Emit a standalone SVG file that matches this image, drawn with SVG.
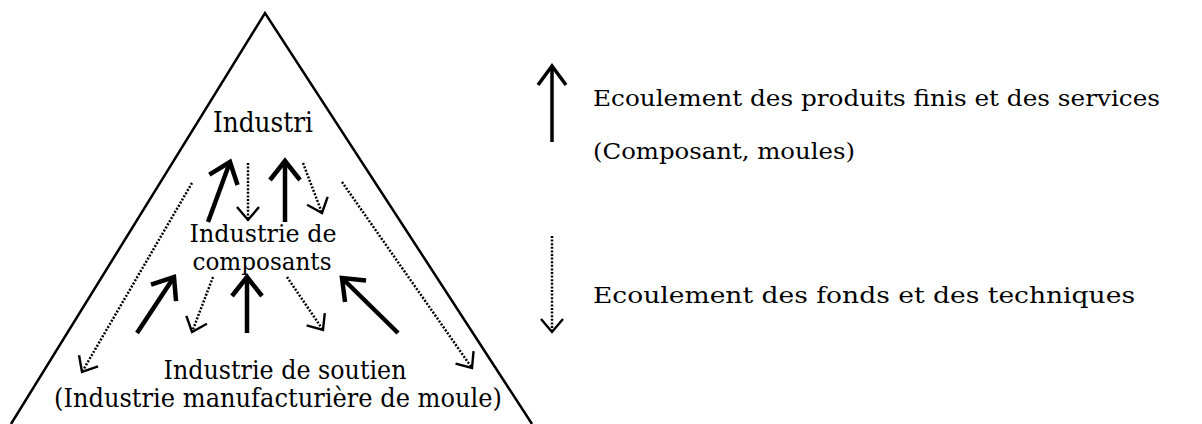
<svg xmlns="http://www.w3.org/2000/svg" width="1202" height="424" viewBox="0 0 1202 424">
<style>
.t{font-family:"DejaVu Serif","Liberation Serif",serif;fill:#000}
.tri{font-size:27px}
.mid{font-size:24px}
.bot{font-size:26px}
.leg{font-size:22px}
.solid{fill:none;stroke:#000;stroke-width:4.5;stroke-linecap:butt}
.solidleg{fill:none;stroke:#000;stroke-width:3.5;stroke-linecap:butt}
.dot{fill:none;stroke:#000;stroke-width:2.5;stroke-dasharray:2 1.6}
</style>
<defs>
<marker id="hs" markerUnits="userSpaceOnUse" orient="auto" refX="0" refY="0" markerWidth="40" markerHeight="40" viewBox="-30 -20 40 40" overflow="visible">
<path d="M-19,-15 L0,0 L-19,15" fill="none" stroke="#000" stroke-width="4.5" stroke-linejoin="miter"/>
</marker>
<marker id="hl" markerUnits="userSpaceOnUse" orient="auto" refX="0" refY="0" markerWidth="40" markerHeight="40" viewBox="-30 -20 40 40" overflow="visible">
<path d="M-19,-14 L0,0 L-19,14" fill="none" stroke="#000" stroke-width="3.5" stroke-linejoin="miter"/>
</marker>
<marker id="hd" markerUnits="userSpaceOnUse" orient="auto" refX="0" refY="0" markerWidth="30" markerHeight="30" viewBox="-20 -15 30 30" overflow="visible">
<path d="M-13,-11 L0,0 L-13,11" fill="none" stroke="#000" stroke-width="2.4"/>
</marker>
</defs>
<g id="pyramid">
<path d="M11,424 L265,13 L532,424" fill="none" stroke="#000" stroke-width="2.5" stroke-linejoin="miter"/>
</g>
<g id="node-industri"><text class="t tri" x="263" y="132" text-anchor="middle" textLength="100" lengthAdjust="spacingAndGlyphs">Industri</text></g>
<g id="node-composants">
<text class="t mid" x="263" y="242" text-anchor="middle" textLength="147" lengthAdjust="spacingAndGlyphs">Industrie de</text>
<text class="t mid" x="262" y="270" text-anchor="middle" textLength="139" lengthAdjust="spacingAndGlyphs">composants</text>
</g>
<g id="node-soutien">
<text class="t bot" x="285" y="379" text-anchor="middle" textLength="243" lengthAdjust="spacingAndGlyphs">Industrie de soutien</text>
<text class="t bot" x="278" y="407" text-anchor="middle" textLength="448" lengthAdjust="spacingAndGlyphs">(Industrie manufacturière de moule)</text>
</g>
<g id="connectors">
<path class="solid" d="M208,222 L230,162" marker-end="url(#hs)"/>
<path class="solid" d="M285,222 L285,161" marker-end="url(#hs)"/>
<path class="solid" d="M137,333 L174,277" marker-end="url(#hs)"/>
<path class="solid" d="M247,333 L247,277" marker-end="url(#hs)"/>
<path class="solid" d="M398,333 L342,278" marker-end="url(#hs)"/>
<path class="dot" d="M248,163 L248,220" marker-end="url(#hd)"/>
<path class="dot" d="M303,163 L322,213" marker-end="url(#hd)"/>
<path class="dot" d="M213,277 L192,332" marker-end="url(#hd)"/>
<path class="dot" d="M287,277 L323,330" marker-end="url(#hd)"/>
<path class="dot" d="M192,183 L82,372" marker-end="url(#hd)"/>
<path class="dot" d="M342,182 L472,368" marker-end="url(#hd)"/>
</g>
<g id="legend-solid">
<path class="solidleg" d="M552,142 L552,66" marker-end="url(#hl)"/>
<text class="t leg" x="593" y="106" textLength="567" lengthAdjust="spacingAndGlyphs">Ecoulement des produits finis et des services</text>
<text class="t leg" x="593" y="159" textLength="262" lengthAdjust="spacingAndGlyphs">(Composant, moules)</text>
</g>
<g id="legend-dotted">
<path class="dot" d="M552,236 L552,332" marker-end="url(#hd)"/>
<text class="t leg" x="593" y="303" textLength="542" lengthAdjust="spacingAndGlyphs">Ecoulement des fonds et des techniques</text>
</g>
</svg>
